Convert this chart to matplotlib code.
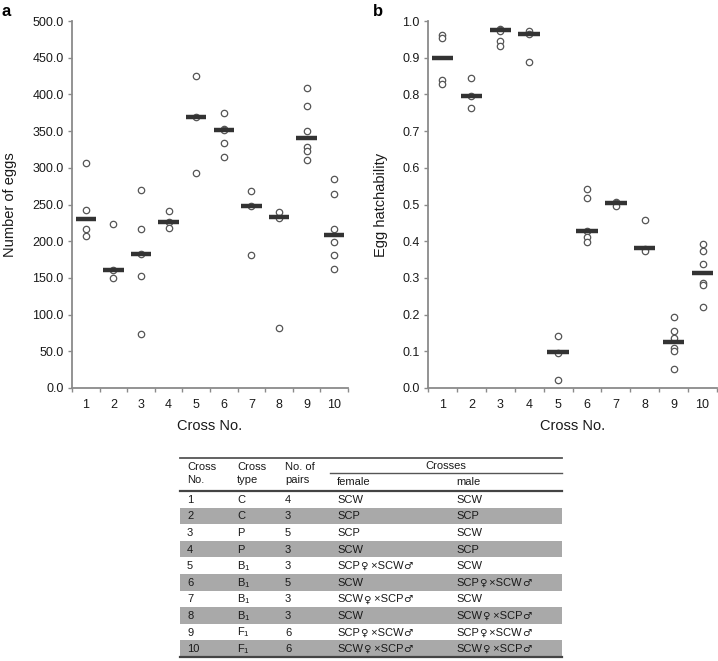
import numpy as np
import matplotlib
matplotlib.use("Agg")
import matplotlib.pyplot as plt
from matplotlib.ticker import FixedLocator, FormatStrFormatter

plt.rcParams['font.family'] = ['Liberation Sans', 'DejaVu Sans']
plt.rcParams['mathtext.fontset'] = 'custom'
plt.rcParams['mathtext.rm'] = 'Liberation Sans'
plt.rcParams['mathtext.it'] = 'Liberation Sans:italic'

# ---- data ----
crosses = list(range(1, 11))

eggs = [
    [306, 242, 216, 207],
    [223, 161, 150],
    [270, 216, 182, 152, 74],
    [241, 226, 218],
    [425, 369, 293],
    [374, 353, 352, 334, 315],
    [268, 248, 181],
    [240, 232, 82],
    [409, 384, 350, 329, 323, 310],
    [285, 264, 216, 199, 181, 162],
]
eggs_median = [230, 161, 182, 226, 369, 352, 248, 233, 340, 208]

hatch = [
    [0.962, 0.954, 0.838, 0.829],
    [0.844, 0.797, 0.763],
    [0.978, 0.976, 0.974, 0.946, 0.933],
    [0.974, 0.965, 0.887],
    [0.142, 0.096, 0.022],
    [0.543, 0.517, 0.427, 0.411, 0.397],
    [0.507, 0.503, 0.496],
    [0.459, 0.379, 0.373],
    [0.194, 0.155, 0.136, 0.110, 0.102, 0.052],
    [0.392, 0.372, 0.339, 0.287, 0.281, 0.221],
]
hatch_median = [0.898, 0.797, 0.975, 0.965, 0.097, 0.427, 0.505, 0.381, 0.125, 0.313]

# table
tab_no = [str(c) for c in crosses]
tab_type = ['C', 'C', 'P', 'P', 'B$_1$', 'B$_1$', 'B$_1$', 'B$_1$', 'F$_1$', 'F$_1$']
tab_pairs = ['4', '3', '5', '3', '3', '5', '3', '3', '6', '6']
tab_female = ['SCW', 'SCP', 'SCP', 'SCW', 'SCP\u2640 \u00d7SCW\u2642', 'SCW',
              'SCW\u2640 \u00d7SCP\u2642', 'SCW', 'SCP\u2640 \u00d7SCW\u2642',
              'SCW\u2640 \u00d7SCP\u2642']
tab_male = ['SCW', 'SCP', 'SCW', 'SCP', 'SCW', 'SCP\u2640 \u00d7SCW\u2642', 'SCW',
            'SCW\u2640 \u00d7SCP\u2642', 'SCP\u2640 \u00d7SCW\u2642',
            'SCW\u2640 \u00d7SCP\u2642']

W, H = 718, 661
fig = plt.figure(figsize=(W / 100, H / 100), dpi=100)

spine_col = '#8a8a8a'
txt_col = '#1a1a1a'


def panel(rect, values, medians, ylim, step, ylabel, letter, lx, ylx):
    ax = fig.add_axes(rect)
    for i, vals in enumerate(values):
        x = np.full(len(vals), crosses[i])
        ax.plot(x, vals, 'o', ms=4.6, mfc='white', mec='#555555', mew=0.9, zorder=3)
        ax.hlines(medians[i], crosses[i] - 0.37, crosses[i] + 0.37,
                  color='#333333', lw=3.2, zorder=4)
    ax.set_xlim(0.5, 10.5)
    ax.set_ylim(*ylim)
    ax.set_yticks(np.arange(ylim[0], ylim[1] + step / 2, step))
    ax.yaxis.set_major_formatter(FormatStrFormatter('%.1f'))
    ax.xaxis.set_major_locator(FixedLocator(np.arange(0.5, 11, 1)))
    ax.xaxis.set_minor_locator(FixedLocator(crosses))
    ax.set_xticklabels([])
    ax.set_xticklabels([str(c) for c in crosses], minor=True)
    ax.tick_params(axis='x', which='minor', length=0, pad=8, labelsize=9, colors=txt_col)
    ax.tick_params(axis='x', which='major', length=3, width=1, color=spine_col)
    ax.tick_params(axis='y', length=3, width=1, color=spine_col, labelsize=9,
                   labelcolor=txt_col, pad=3)
    for s in ['top', 'right']:
        ax.spines[s].set_visible(False)
    for s in ['left', 'bottom']:
        ax.spines[s].set_color(spine_col)
        ax.spines[s].set_linewidth(1.3)
    ax.set_xlabel('Cross No.', fontsize=10.5, color=txt_col, labelpad=6)
    fig.text(ylx / W, 1 - 205 / H, ylabel, rotation=90, ha='center', va='center',
             fontsize=10.5, color=txt_col)
    fig.text(lx / W, 1 - 12 / H, letter, fontsize=12, fontweight='bold',
             ha='left', va='center', color='black')
    return ax


panel([72 / W, 1 - 388 / H, 276 / W, 367 / H], eggs, eggs_median, (0, 500), 50,
      'Number of eggs', 'a', 2, 10)
panel([428 / W, 1 - 388 / H, 289 / W, 367 / H], hatch, hatch_median, (0, 1.0), 0.1,
      'Egg hatchability', 'b', 373, 381)

# ---- table in pixel coordinates ----
ta = fig.add_axes([0, 0, 1, 1], zorder=-1)
ta.set_xlim(0, W)
ta.set_ylim(H, 0)
ta.axis('off')
renderer = fig.canvas.get_renderer()

left, right = 180, 562
top, hdr_bot, bottom = 458, 491, 657
row_h = (bottom - hdr_bot) / 10
col_x = [187, 237, 285, 337, 456]
fs = 8
sym = {'\u2640', '\u2642'}


def cell(x, y, s):
    # split so the sex symbols come from DejaVu Sans at a readable size
    parts, cur = [], ''
    for ch in s:
        if ch in sym:
            if cur:
                parts.append((cur, False))
            parts.append((ch, True))
            cur = ''
        else:
            cur += ch
    if cur:
        parts.append((cur, False))
    for txt, is_sym in parts:
        kw = dict(fontsize=fs, color=txt_col, va='baseline', ha='left')
        if is_sym:
            kw['family'] = ['DejaVu Sans']
            kw['fontsize'] = fs - 0.5
        t = ta.text(x, y + 3, txt, **kw)
        x1 = t.get_window_extent(renderer).x1
        x = ta.transData.inverted().transform((x1, 0))[0]


for i in range(10):
    y0 = hdr_bot + i * row_h
    if i % 2 == 1:
        ta.fill_between([left, right], y0, y0 + row_h, color='#a9a9a9', lw=0)
    yc = y0 + row_h / 2 + 0.5
    for x, col in zip(col_x, [tab_no, tab_type, tab_pairs, tab_female, tab_male]):
        cell(x, yc, col[i])

ta.plot([left, right], [top, top], color='#555555', lw=1.3)
ta.plot([330, right], [473, 473], color='#555555', lw=1.0)
ta.plot([left, right], [hdr_bot, hdr_bot], color='#444444', lw=1.6)
ta.plot([left, right], [bottom, bottom], color='#444444', lw=1.6)

ta.text(col_x[0], 467, 'Cross', fontsize=fs, ha='left', va='center', color=txt_col)
ta.text(col_x[0], 480, 'No.', fontsize=fs, ha='left', va='center', color=txt_col)
ta.text(col_x[1], 467, 'Cross', fontsize=fs, ha='left', va='center', color=txt_col)
ta.text(col_x[1], 480, 'type', fontsize=fs, ha='left', va='center', color=txt_col)
ta.text(col_x[2], 467, 'No. of', fontsize=fs, ha='left', va='center', color=txt_col)
ta.text(col_x[2], 480, 'pairs', fontsize=fs, ha='left', va='center', color=txt_col)
ta.text(446, 466, 'Crosses', fontsize=fs, ha='center', va='center', color=txt_col)
ta.text(col_x[3], 482, 'female', fontsize=fs, ha='left', va='center', color=txt_col)
ta.text(col_x[4], 482, 'male', fontsize=fs, ha='left', va='center', color=txt_col)

fig.savefig('out.png', dpi=100)
